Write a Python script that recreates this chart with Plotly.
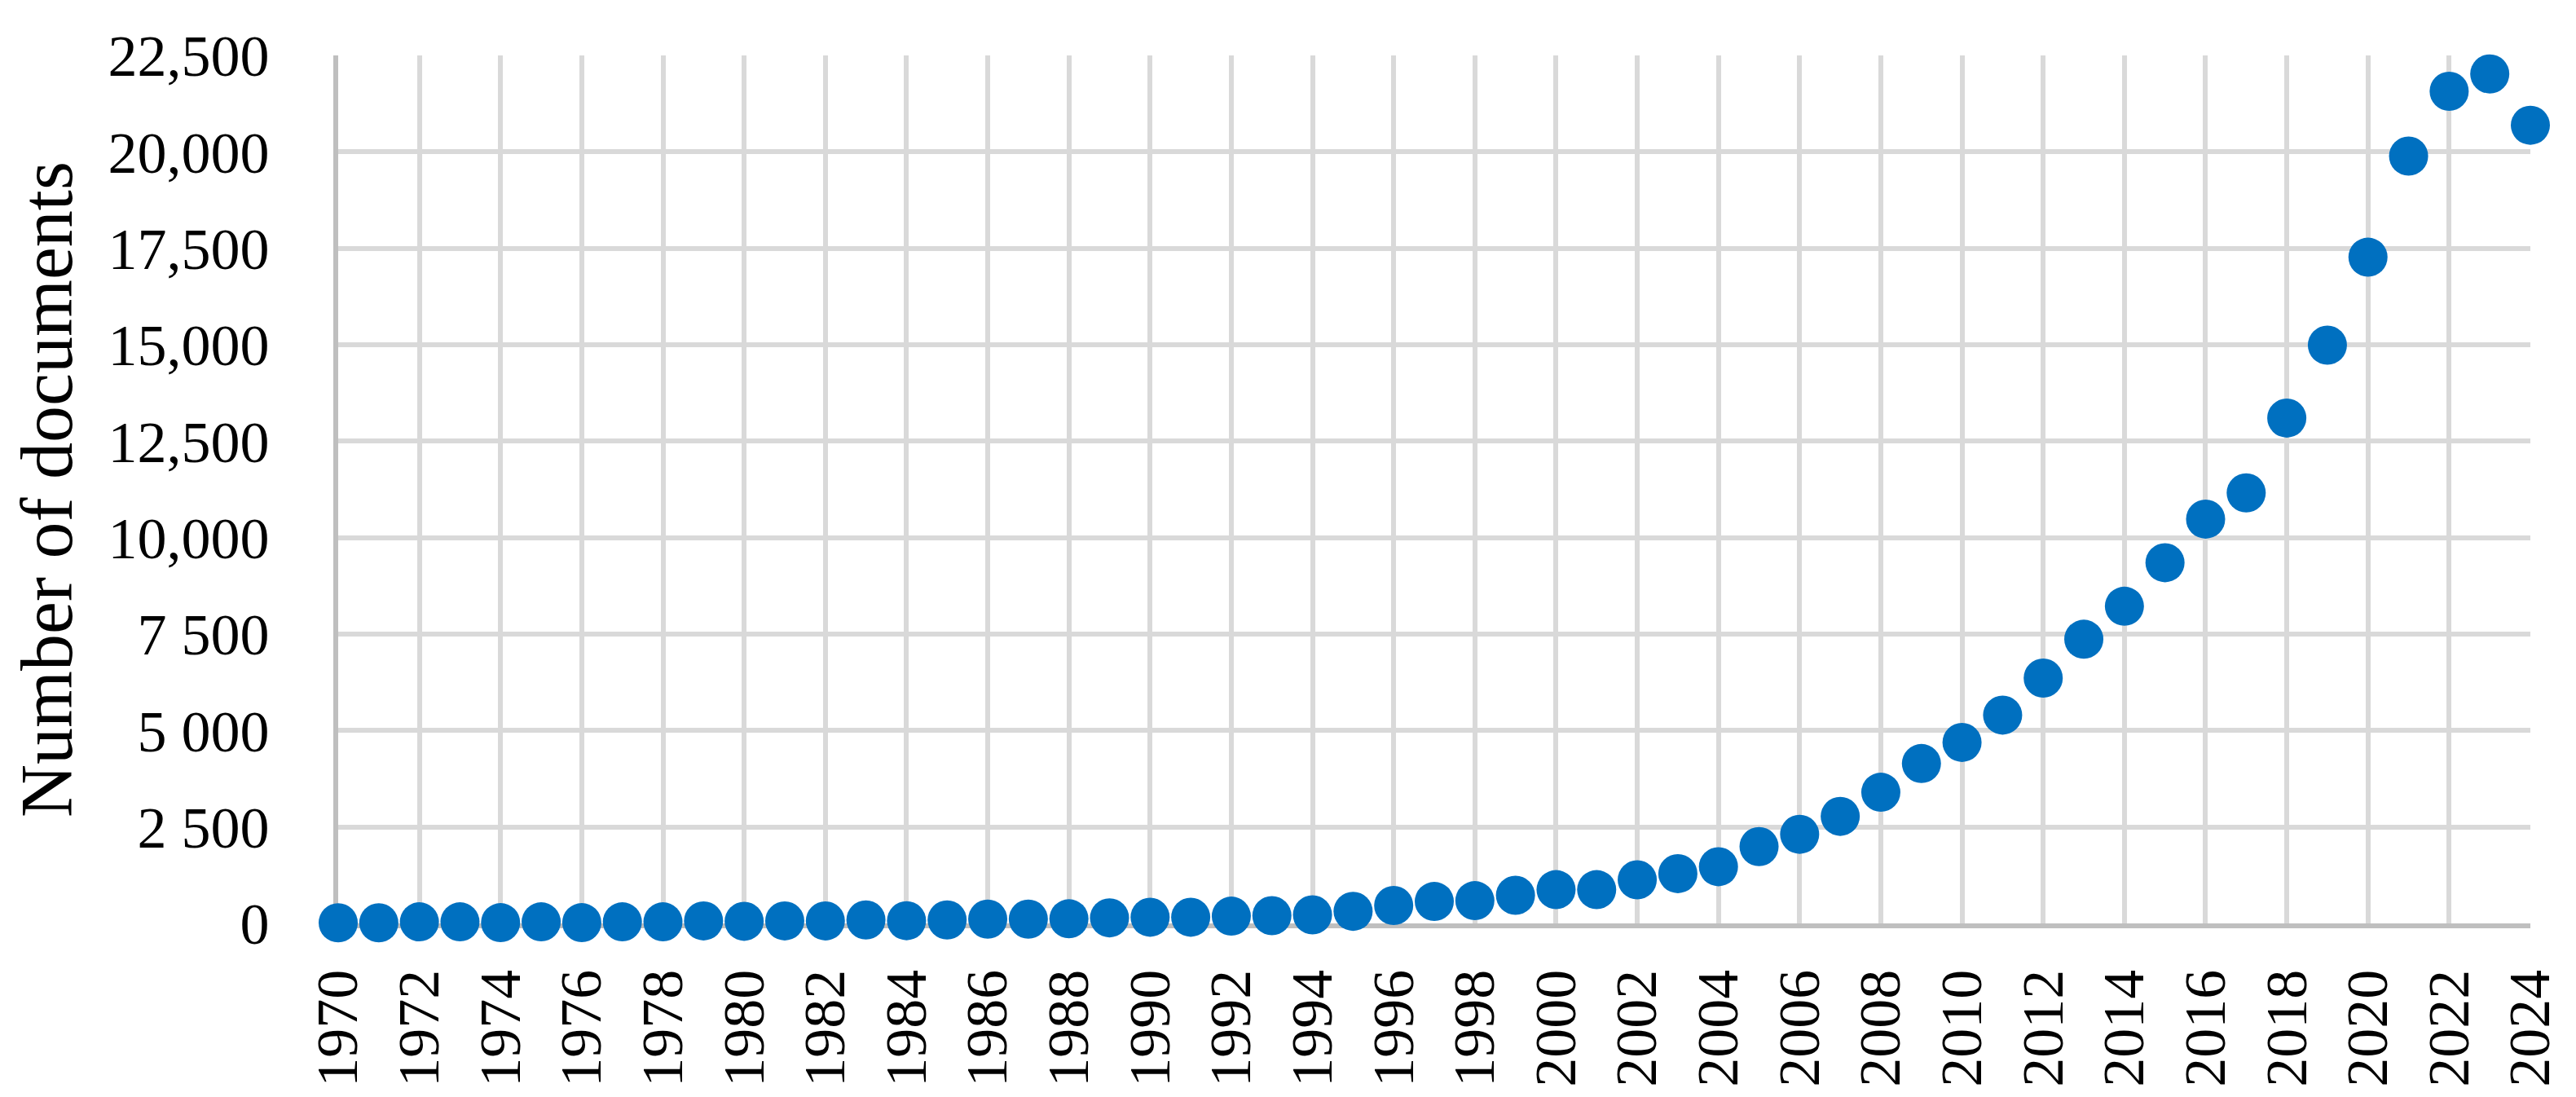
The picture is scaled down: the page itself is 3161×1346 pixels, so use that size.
import plotly.graph_objects as go

years = list(range(1970, 2025))
documents = [
    15, 15, 40, 40, 20, 40, 20, 40, 40, 65,
    55, 65, 65, 90, 70, 90, 110, 110, 120, 145,
    160, 160, 188, 200, 222, 313, 465, 569, 590, 729,
    875, 875, 1130, 1290, 1470, 1992, 2310, 2775, 3400, 4144,
    4692, 5400, 6360, 7367, 8222, 9350, 10480, 11160, 13100, 14990,
    17270, 19890, 21570, 22020, 20690,
]

x_tick_vals = list(range(1970, 2025, 2))
x_tick_text = [str(v) for v in x_tick_vals]
y_tick_vals = [0, 2500, 5000, 7500, 10000, 12500, 15000, 17500, 20000, 22500]
y_tick_text = ["0", "2 500", "5 000", "7 500", "10,000", "12,500", "15,000",
               "17,500", "20,000", "22,500"]

FONT = "Liberation Serif"

fig = go.Figure()
fig.add_trace(go.Scatter(
    x=years, y=documents, mode="markers",
    marker=dict(size=48, color="#0070C0", line=dict(width=0)),
    cliponaxis=False, showlegend=False,
))

fig.update_layout(
    width=3161, height=1346,
    margin=dict(l=407, r=64, t=60, b=221),
    paper_bgcolor="white", plot_bgcolor="white",
    font=dict(family=FONT, size=72, color="black"),
)
fig.update_xaxes(
    range=[1970, 2024], tickmode="array", tickvals=x_tick_vals, ticktext=x_tick_text,
    tickangle=-90, showgrid=True, gridcolor="#D9D9D9", gridwidth=6,
    showline=True, linecolor="#BFBFBF", linewidth=6, zeroline=False,
    ticks="outside", ticklen=22, tickcolor="rgba(0,0,0,0)",
    tickfont=dict(family=FONT, size=72), layer="below traces", automargin=False,
)
fig.update_yaxes(
    range=[0, 22500], tickmode="array", tickvals=y_tick_vals, ticktext=y_tick_text,
    showgrid=True, gridcolor="#D9D9D9", gridwidth=6,
    showline=True, linecolor="#BFBFBF", linewidth=6, zeroline=False,
    ticks="outside", ticklen=64, tickcolor="rgba(0,0,0,0)",
    tickfont=dict(family=FONT, size=72), layer="below traces", automargin=False,
    title=dict(text="Number of documents", font=dict(family=FONT, size=90), standoff=44),
)

fig.write_html("out.html")
